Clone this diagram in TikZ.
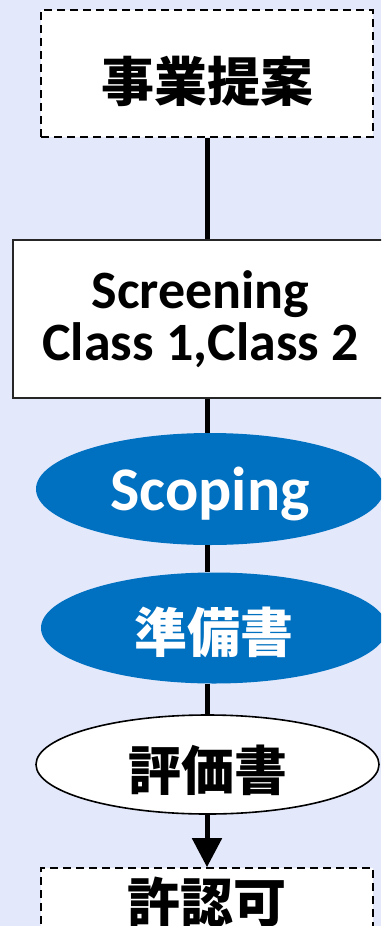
\documentclass[tikz,border=0pt]{standalone}
\usepackage{fontspec}
\setmainfont{Carlito}
\newfontfamily\cjk{Noto Sans CJK JP}
\usetikzlibrary{shapes.geometric,arrows.meta}
\definecolor{bgcol}{HTML}{E3E8FA}
\definecolor{eiablue}{HTML}{0070C0}
\begin{document}
\begin{tikzpicture}[x=1pt,y=-1pt,
  dashbox/.style={rectangle, draw=black, fill=white, line width=1.6pt, dash pattern=on 8pt off 5pt, inner sep=0pt},
  solidbox/.style={rectangle, draw=black!85, fill=white, line width=1.6pt, inner sep=0pt},
  blueell/.style={ellipse, fill=eiablue, text=white, inner sep=0pt},
  whiteell/.style={ellipse, draw=black, fill=white, line width=1.6pt, inner sep=0pt},
  cjktxt/.style={font=\cjk\bfseries\fontsize{53}{60}\selectfont},
  lattxt/.style={font=\bfseries\fontsize{54}{52}\selectfont, align=center},
  conn/.style={draw=black, line width=5pt}
]
\fill[bgcol] (0,0) rectangle (381,926);
\useasboundingbox (0,0) rectangle (381,926);
\clip (0,0) rectangle (381,926);
\coordinate (axis) at (207,0);

\node[dashbox, cjktxt, minimum width=332pt, minimum height=127pt, text height=59pt, text depth=4pt] (prop) at (207,73.5) {事業提案};
\node[solidbox, lattxt, minimum width=375pt, minimum height=158pt] (scr) at (200.5,319) {Screening\\Class 1,Class 2};
\node[blueell, font=\bfseries\fontsize{62}{62}\selectfont, minimum width=348pt, minimum height=112pt, text height=43pt, text depth=0pt] (scop) at (210,489) {Scoping};
\node[blueell, cjktxt, minimum width=346pt, minimum height=111pt, text height=50pt, text depth=2pt] (jun) at (214,628) {準備書};
\node[whiteell, cjktxt, minimum width=343pt, minimum height=99pt, text height=55pt, text depth=4pt] (hyo) at (207.5,764.5) {評価書};
\node[dashbox, cjktxt, minimum width=332pt, minimum height=68pt, text height=44pt, text depth=4pt] (kyo) at (207,902) {許認可};

\draw[conn] (axis |- prop.south) -- (axis |- scr.north);
\draw[conn] (axis |- scr.south) -- (axis |- scop.north);
\draw[conn] (axis |- scop.south) -- (axis |- jun.north);
\draw[conn] (axis |- jun.south) -- (axis |- hyo.north);
\draw[conn, -{Triangle[width=29pt,length=29pt]}] (axis |- hyo.south) -- (axis |- kyo.north);
\end{tikzpicture}
\end{document}
